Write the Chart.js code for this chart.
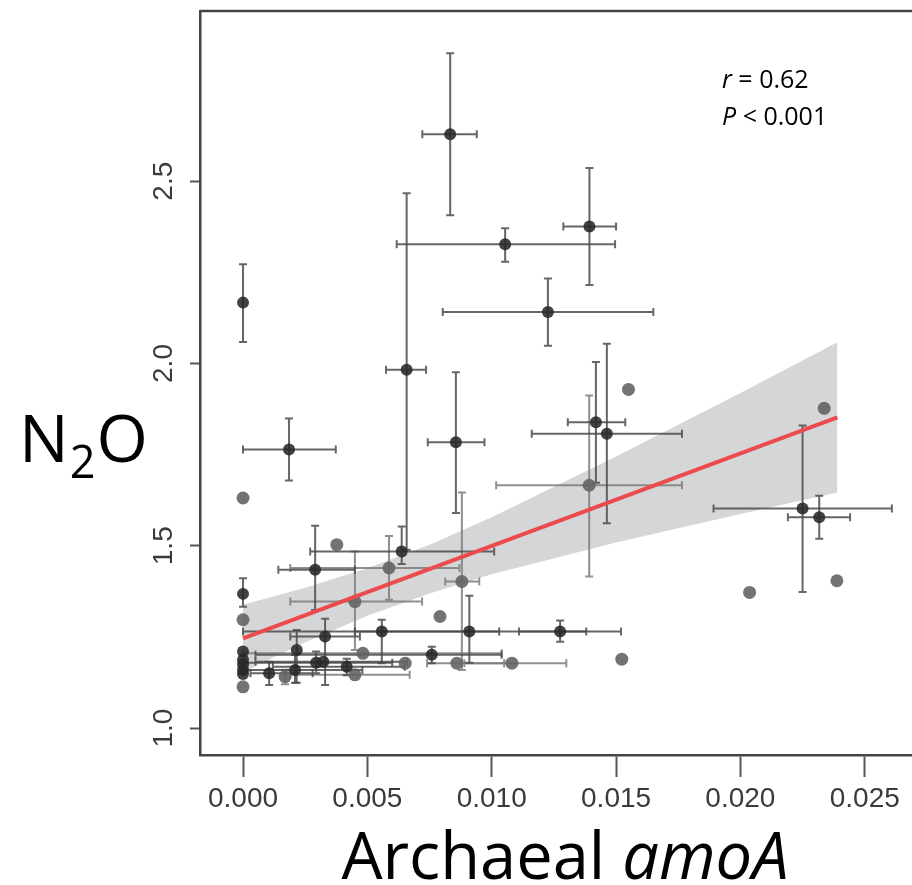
<!DOCTYPE html>
<html>
<head>
<meta charset="utf-8">
<script src="https://cdn.jsdelivr.net/npm/chart.js@4.4.1/dist/chart.umd.min.js"></script>
<style>
  html, body { margin: 0; padding: 0; background: #fff; overflow: hidden; }
</style>
</head>
<body>
<canvas id="chart" width="912" height="885"></canvas>
<script>
// axis ticks
const xTicks = [0, 0.005, 0.010, 0.015, 0.020, 0.025];
const xTickLabels = ['0.000', '0.005', '0.010', '0.015', '0.020', '0.025'];
const yTicks = [1.0, 1.5, 2.0, 2.5];
const yTickLabels = ['1.0', '1.5', '2.0', '2.5'];

// dark points (x, y and their error ranges, null = no bar)
const darkX   = [0, 0.00185, 0.00833, 0.01054, 0.01393, 0.01226, 0.00658, 0.00856, 0.01463, 0.01419, 0.0225, 0.02317, 0.00638, 0.0029, 0, 0.00558, 0.0091, 0.01275, 0, 0, 0, 0, 0, 0.00216, 0.00105, 0.00209, 0.0033, 0.00294, 0.00323, 0.00417, 0.00759];
const darkY   = [2.167, 1.764, 2.629, 2.327, 2.376, 2.141, 1.983, 1.784, 1.807, 1.839, 1.602, 1.578, 1.484, 1.434, 1.368, 1.265, 1.265, 1.265, 1.21, 1.187, 1.175, 1.159, 1.148, 1.214, 1.15, 1.159, 1.251, 1.179, 1.182, 1.168, 1.201];
const darkXLo = [null, 0, 0.00721, 0.00618, 0.01288, 0.00803, 0.00575, 0.00743, 0.01161, 0.01306, 0.01892, 0.02191, 0.0027, 0.00142, null, 0, 0.0045, 0.0111, null, null, null, null, null, null, 0.0003, 0, 0.0019, 0, 0.0005, 0.0012, 0.0005];
const darkXHi = [null, 0.00373, 0.0094, 0.01496, 0.0150, 0.0165, 0.00736, 0.00971, 0.01765, 0.01537, 0.02609, 0.02441, 0.0101, 0.0045, null, 0.0103, 0.0138, 0.0152, null, null, null, null, null, null, 0.0028, 0.0048, 0.0047, 0.0060, 0.0066, 0.0065, 0.0104];
const darkYLo = [2.059, 1.679, 2.407, 2.279, 2.215, 2.049, 1.489, 1.590, 1.562, 1.673, 1.373, 1.519, 1.45, 1.324, 1.333, 1.178, 1.179, 1.237, null, null, null, null, null, 1.124, 1.118, 1.124, 1.118, 1.15, null, 1.145, 1.178];
const darkYHi = [2.272, 1.849, 2.851, 2.371, 2.536, 2.233, 2.467, 1.976, 2.054, 2.004, 1.830, 1.637, 1.553, 1.555, 1.411, 1.297, 1.363, 1.295, null, null, null, null, null, 1.269, 1.182, 1.2, 1.30, 1.21, null, 1.19, 1.223];

// lighter grey points
const greyX   = [0, 0.01392, 0.0155, 0.02337, 0.02037, 0.02388, 0.01523, 0.00377, 0.00587, 0.0045, 0.0088, 0.00792, 0, 0, 0.00169, 0.0045, 0.00482, 0.00652, 0.0086, 0.01081];
const greyY   = [1.631, 1.666, 1.929, 1.877, 1.372, 1.404, 1.189, 1.503, 1.439, 1.347, 1.402, 1.306, 1.297, 1.113, 1.141, 1.146, 1.205, 1.178, 1.178, 1.178];
const greyXLo = [null, 0.01018, null, null, null, null, null, null, 0.0019, 0.0019, 0.00813, null, null, null, null, 0.0019, 0, null, 0.0074, 0.0089];
const greyXHi = [null, 0.01765, null, null, null, null, null, null, 0.0087, 0.0072, 0.0095, null, null, null, null, 0.0067, 0.0104, null, 0.0105, 0.0130];
const greyYLo = [null, 1.416, null, null, null, null, null, null, 1.352, 1.214, 1.159, null, null, null, 1.12, null, null, null, null, null];
const greyYHi = [null, 1.912, null, null, null, null, null, null, 1.527, 1.484, 1.646, null, null, null, 1.16, null, null, null, null, null];

// fitted line and its confidence band
const fitX = [0, 0.0239];
const fitY = [1.246, 1.852];
const bandX = [0, 0.0025, 0.005, 0.0075, 0.010, 0.015, 0.020, 0.0239];
const bandUpper = [1.338, 1.385, 1.438, 1.503, 1.578, 1.745, 1.919, 2.058];
const bandLower = [1.154, 1.235, 1.308, 1.369, 1.422, 1.509, 1.587, 1.646];

const toPts = (xs, ys) => xs.map((x, i) => ({ x: x, y: ys[i] }));

function drawBars(ctx, sx, sy, xs, ys, xLo, xHi, yLo, yHi, color) {
    ctx.strokeStyle = color;
    ctx.lineWidth = 2;
    const cap = 4;
    for (let i = 0; i < xs.length; i++) {
        const px = sx.getPixelForValue(xs[i]);
        const py = sy.getPixelForValue(ys[i]);
        ctx.beginPath();
        if (xLo[i] !== null) {
            const a = sx.getPixelForValue(xLo[i]);
            const b = sx.getPixelForValue(xHi[i]);
            ctx.moveTo(a, py); ctx.lineTo(b, py);
            ctx.moveTo(a, py - cap); ctx.lineTo(a, py + cap);
            ctx.moveTo(b, py - cap); ctx.lineTo(b, py + cap);
        }
        if (yLo[i] !== null) {
            const a = sy.getPixelForValue(yLo[i]);
            const b = sy.getPixelForValue(yHi[i]);
            ctx.moveTo(px, a); ctx.lineTo(px, b);
            ctx.moveTo(px - cap, a); ctx.lineTo(px + cap, a);
            ctx.moveTo(px - cap, b); ctx.lineTo(px + cap, b);
        }
        ctx.stroke();
    }
}

const errorBars = {
    id: 'errorBars',
    afterDatasetDraw(chart, args) {
        if (args.index !== 3) return;
        const ctx = chart.ctx;
        const area = chart.chartArea;
        ctx.save();
        ctx.beginPath();
        ctx.rect(area.left, area.top, area.right - area.left, area.bottom - area.top);
        ctx.clip();
        const sx = chart.scales.x, sy = chart.scales.y;
        drawBars(ctx, sx, sy, greyX, greyY, greyXLo, greyXHi, greyYLo, greyYHi, 'rgba(125,125,125,0.85)');
        drawBars(ctx, sx, sy, darkX, darkY, darkXLo, darkXHi, darkYLo, darkYHi, 'rgba(75,75,75,0.85)');
        ctx.restore();
    }
};

const frameAndText = {
    id: 'frameAndText',
    afterDraw(chart) {
        const ctx = chart.ctx;
        const a = chart.chartArea;
        ctx.save();
        // top edge of the plot box
        ctx.strokeStyle = '#444';
        ctx.lineWidth = 2.5;
        ctx.beginPath();
        ctx.moveTo(a.left, a.top);
        ctx.lineTo(a.right, a.top);
        ctx.stroke();

        ctx.fillStyle = '#000';
        ctx.textBaseline = 'alphabetic';

        // x title: Archaeal amoA
        ctx.font = '65px "Open Sans"';
        const w1 = ctx.measureText('Archaeal ').width;
        ctx.font = 'italic 65px "Open Sans"';
        const w2 = ctx.measureText('amoA').width;
        let x0 = 565 - (w1 + w2) / 2;
        ctx.font = '65px "Open Sans"';
        ctx.fillText('Archaeal ', x0, 879);
        ctx.font = 'italic 65px "Open Sans"';
        ctx.fillText('amoA', x0 + w1, 879);

        // y title: N2O
        ctx.font = '66px "Open Sans"';
        ctx.fillText('N', 19, 462);
        const wn = ctx.measureText('N').width;
        ctx.font = '45px "Open Sans"';
        ctx.fillText('2', 19 + wn + 1, 478);
        const w2s = ctx.measureText('2').width;
        ctx.font = '66px "Open Sans"';
        ctx.fillText('O', 19 + wn + w2s + 2, 462);

        // stats
        ctx.font = 'italic 25px "Open Sans"';
        ctx.fillText('r', 722, 88);
        const wr = ctx.measureText('r').width;
        ctx.font = '25px "Open Sans"';
        ctx.fillText(' = 0.62', 722 + wr, 88);
        ctx.font = 'italic 25px "Open Sans"';
        ctx.fillText('P', 722, 125);
        const wp = ctx.measureText('P').width;
        ctx.font = '25px "Open Sans"';
        ctx.fillText(' < 0.001', 722 + wp, 125);
        ctx.restore();
    }
};

const tickFont = { family: 'Liberation Sans', size: 28 };

new Chart(document.getElementById('chart'), {
    type: 'scatter',
    data: {
        datasets: [{
            type: 'line',
            label: 'fit',
            data: toPts(fitX, fitY),
            borderColor: '#ec4a4c',
            borderWidth: 4,
            pointRadius: 0,
            fill: false
        }, {
            label: 'dark',
            data: toPts(darkX, darkY),
            backgroundColor: 'rgba(40,40,40,0.88)',
            borderWidth: 0,
            pointRadius: 6
        }, {
            label: 'grey',
            data: toPts(greyX, greyY),
            backgroundColor: 'rgba(100,100,100,0.9)',
            borderWidth: 0,
            pointRadius: 6.5
        }, {
            type: 'line',
            label: 'upper',
            data: toPts(bandX, bandUpper),
            borderWidth: 0,
            pointRadius: 0,
            backgroundColor: '#d5d6d7',
            fill: '+1'
        }, {
            type: 'line',
            label: 'lower',
            data: toPts(bandX, bandLower),
            borderWidth: 0,
            pointRadius: 0,
            fill: false
        }]
    },
    options: {
        responsive: false,
        animation: false,
        // the plot box runs to the right edge, as in the cropped original
        layout: { autoPadding: false, padding: { top: 11, right: 0, left: 0, bottom: 0 } },
        plugins: {
            legend: { display: false },
            tooltip: { enabled: false }
        },
        scales: {
            x: {
                type: 'linear',
                min: -0.00173,
                max: 0.0269,
                afterBuildTicks: s => { s.ticks = xTicks.map(v => ({ value: v })); },
                afterFit: s => { s.height = 130; s.paddingLeft = 0; s.paddingRight = 0; },
                ticks: {
                    callback: (v, i) => xTickLabels[i],
                    font: tickFont,
                    color: '#3a3a3a',
                    padding: 5,
                    maxRotation: 0,
                    autoSkip: false
                },
                grid: { drawOnChartArea: false, tickLength: 22, tickColor: '#555', tickWidth: 2 },
                border: { display: true, color: '#444', width: 2.5 }
            },
            y: {
                type: 'linear',
                min: 0.926,
                max: 2.967,
                afterBuildTicks: s => { s.ticks = yTicks.map(v => ({ value: v })); },
                afterFit: s => { s.width = 200; s.paddingTop = 0; s.paddingBottom = 0; },
                ticks: {
                    callback: (v, i) => yTickLabels[i],
                    font: tickFont,
                    color: '#3a3a3a',
                    minRotation: 90,
                    maxRotation: 90,
                    crossAlign: 'center',
                    padding: 6,
                    autoSkip: false
                },
                grid: { drawOnChartArea: false, tickLength: 10, tickColor: '#555', tickWidth: 2 },
                border: { display: true, color: '#444', width: 2.5 }
            }
        }
    },
    plugins: [errorBars, frameAndText]
});
</script>
</body>
</html>
